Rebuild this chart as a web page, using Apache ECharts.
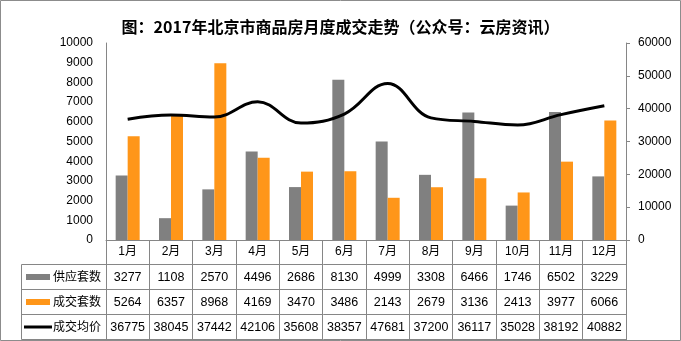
<!DOCTYPE html>
<html><head><meta charset="utf-8">
<script src="https://cdn.jsdelivr.net/npm/echarts@6/dist/echarts.min.js"></script>
<style>html,body{margin:0;padding:0;background:#fff}#c{width:681px;height:341px}</style>
</head><body><div id="c"></div>
<script>
const months = ['1月','2月','3月','4月','5月','6月','7月','8月','9月','10月','11月','12月'];
const supply = [3277,1108,2570,4496,2686,8130,4999,3308,6466,1746,6502,3229];
const deals = [5264,6357,8968,4169,3470,3486,2143,2679,3136,2413,3977,6066];
const avgPrice = [36775,38045,37442,42106,35608,38357,47681,37200,36117,35028,38192,40882];
const seriesNames = ['供应套数','成交套数','成交均价'];
const leftTicks = {min:0,max:10000,interval:1000};
const rightTicks = {min:0,max:60000,interval:10000};

const FONT = 'Liberation Sans, Noto Sans CJK SC, sans-serif';
const GRAY = '#808080', ORANGE = '#FF9619', LINE = '#868686';
const gridL = 106, gridR = 55, gridT = 43, gridB = 101;
const W = 681, H = 341;
const plotRight = W - gridR, axisY = H - gridB;
const rowH = 25;
const tableLeft = 21.5;

const chart = echarts.init(document.getElementById('c'), null, {renderer:'canvas'});

function rowAxis(data, k){
  return {type:'category', gridIndex:0, position:'bottom', offset: rowH*k,
    data: data.map(String), axisLine:{show:false}, axisTick:{show:false},
    axisLabel:{show:true, interval:0, margin:6, color:'#000', fontSize:12.5, fontFamily:FONT}};
}

const graphics = [
  {type:'rect', shape:{x:0.5,y:0.5,width:W-1,height:H-1}, style:{fill:'none', stroke:'#8c8c8c', lineWidth:1}, silent:true}
];
for (let k=1;k<=4;k++){
  const y = Math.round(axisY + rowH*(k) - 1) + 0.5;
  graphics.push({type:'line', shape:{x1:tableLeft, y1:y, x2:plotRight, y2:y}, style:{stroke:LINE, lineWidth:1}, silent:true});
}
graphics.push({type:'line', shape:{x1:tableLeft, y1:axisY+rowH-0.5, x2:tableLeft, y2:axisY+rowH*4-0.5}, style:{stroke:LINE, lineWidth:1}, silent:true});
const swatchColors = [GRAY, ORANGE, '#000'];
seriesNames.forEach((n,i)=>{
  const cy = axisY + rowH*(i+1) + 12.5;
  if (i<2) graphics.push({type:'rect', shape:{x:26,y:cy-3.5,width:24,height:6}, style:{fill:swatchColors[i]}, silent:true});
  else graphics.push({type:'line', shape:{x1:24,y1:cy-0.5,x2:52,y2:cy-0.5}, style:{stroke:'#000', lineWidth:3}, silent:true});
  graphics.push({type:'text', x:53, y:cy, style:{text:n, fill:'#000', font:'12px '+FONT, textVerticalAlign:'middle', textAlign:'left'}, silent:true});
});

const plain = v => String(v);

chart.setOption({
  animation:false,
  backgroundColor:'#fff',
  title:{text:'图：2017年北京市商品房月度成交走势（公众号：云房资讯）', left:'center', top:14,
    textStyle:{fontSize:16, fontWeight:'bold', color:'#000', fontFamily:'Noto Sans CJK SC, sans-serif'}},
  grid:{left:gridL, right:gridR, top:gridT, bottom:gridB, containLabel:false},
  xAxis:[
    {type:'category', data:months, position:'bottom',
      axisLine:{show:true, lineStyle:{color:LINE, width:1}},
      axisTick:{show:true, inside:false, length:rowH*4, lineStyle:{color:LINE, width:1}},
      axisLabel:{interval:0, margin:6, color:'#000', fontSize:12, fontFamily:FONT}},
    rowAxis(supply,1), rowAxis(deals,2), rowAxis(avgPrice,3)
  ],
  yAxis:[
    {type:'value', min:leftTicks.min, max:leftTicks.max, interval:leftTicks.interval,
      axisLine:{show:true, lineStyle:{color:LINE}}, axisTick:{show:false}, splitLine:{show:false},
      axisLabel:{margin:13, color:'#000', fontSize:12, fontFamily:FONT, formatter:plain}},
    {type:'value', min:rightTicks.min, max:rightTicks.max, interval:rightTicks.interval, position:'right',
      axisLine:{show:true, lineStyle:{color:LINE}}, axisTick:{show:true, length:4, lineStyle:{color:LINE}}, splitLine:{show:false},
      axisLabel:{margin:12, color:'#000', fontSize:12, fontFamily:FONT, formatter:plain}}
  ],
  series:[
    {name:seriesNames[0], type:'bar', data:supply, barWidth:12, barGap:'0%', itemStyle:{color:GRAY}},
    {name:seriesNames[1], type:'bar', data:deals, barWidth:12, barGap:'0%', itemStyle:{color:ORANGE}},
    {name:seriesNames[2], type:'line', yAxisIndex:1, data:avgPrice, smooth:0.4, showSymbol:false, symbol:'none',
      lineStyle:{color:'#000', width:3}, z:5}
  ],
  graphic:graphics
});
</script></body></html>
